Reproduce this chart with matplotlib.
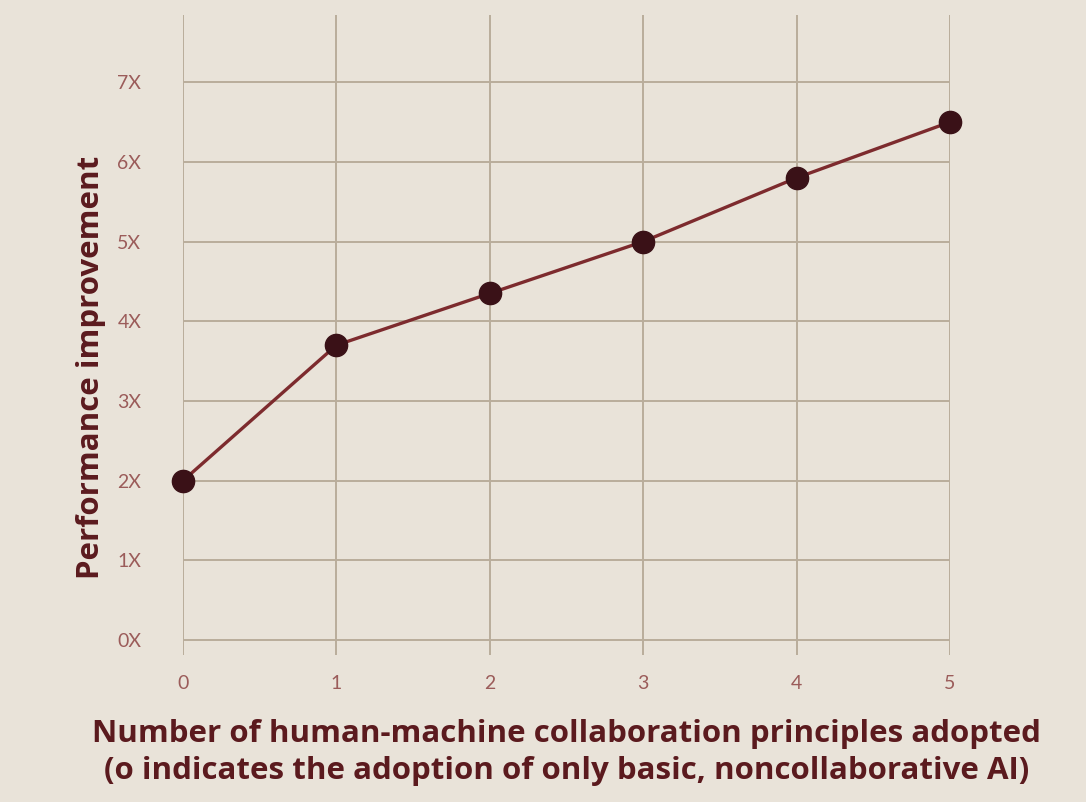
import matplotlib
matplotlib.use("Agg")
import matplotlib.pyplot as plt

principles = [0, 1, 2, 3, 4, 5]
improvement = [2.0, 3.7, 4.35, 5.0, 5.8, 6.5]
y_ticks = [0, 1, 2, 3, 4, 5, 6, 7]
y_tick_labels = ["0X", "1X", "2X", "3X", "4X", "5X", "6X", "7X"]
x_tick_labels = ["0", "1", "2", "3", "4", "5"]
x_label = "Number of human-machine collaboration principles adopted\n(o indicates the adoption of only basic, noncollaborative AI)"
y_label = "Performance improvement"

bg = "#e9e3d9"
grid_c = "#b9ad9b"
line_c = "#7d2b2e"
marker_c = "#3a1117"
tick_c = "#9b5c5a"
label_c = "#5b1a1e"

fig = plt.figure(figsize=(10.86, 8.02), dpi=100, facecolor=bg)
ax = fig.add_axes([0.1685, 0.183, 0.7063, 0.798])
ax.set_facecolor(bg)
ax.set_xlim(0, 5)
ax.set_ylim(-0.19, 7.84)
for s in ax.spines.values():
    s.set_visible(False)

for y in y_ticks:
    ax.plot([principles[0], principles[-1]], [y, y], color=grid_c, lw=1.4, zorder=1)
for x in principles:
    ax.axvline(x, color=grid_c, lw=1.4, zorder=1)

ax.plot(principles, improvement, color=line_c, lw=2.4, zorder=3, clip_on=False)
ax.plot(principles, improvement, linestyle="none", marker="o", markersize=16,
        color=marker_c, zorder=4, clip_on=False)

ax.set_yticks(y_ticks)
ax.set_yticklabels(y_tick_labels, fontsize=14, color=tick_c, family="Lato")
ax.set_xticks(principles)
ax.set_xticklabels(x_tick_labels, fontsize=14, color=tick_c, family="Lato")
ax.tick_params(axis="both", length=0)
ax.tick_params(axis="y", pad=30)
ax.tick_params(axis="x", pad=14)

ax.set_xlabel(x_label, fontsize=22.5, fontweight="bold", color=label_c,
              family="Open Sans", labelpad=20, linespacing=1.3)
ax.set_ylabel(y_label, fontsize=22.5, fontweight="bold", color=label_c,
              family="Open Sans")
ax.yaxis.set_label_coords(-0.1, 0.45, transform=ax.transAxes)

fig.savefig("out.png", dpi=100, facecolor=bg)
